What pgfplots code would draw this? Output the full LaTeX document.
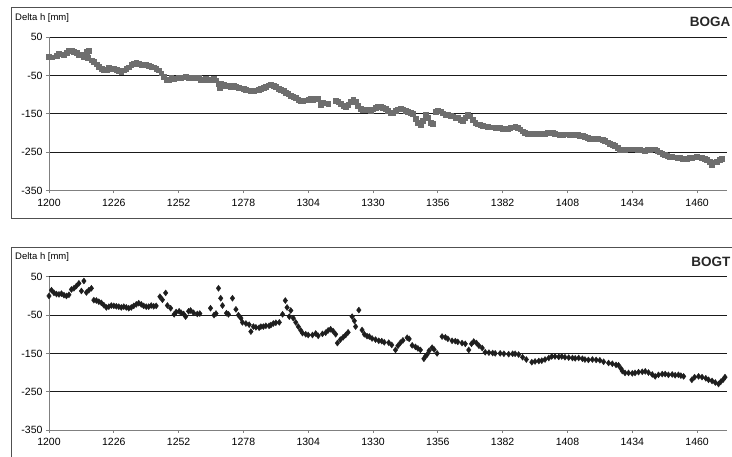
\documentclass[border=0pt]{standalone}
\usepackage{fontspec}
\setmainfont{Liberation Sans}
\usepackage{pgfplots}
\pgfplotsset{compat=1.18}
\definecolor{gridc}{HTML}{1A1A1A}
\definecolor{axc}{HTML}{808080}
\definecolor{framec}{HTML}{505050}
\definecolor{bogac}{HTML}{6E6E6E}
\definecolor{bogtc}{HTML}{1E1E1E}
\pgfplotsset{
  panel/.style={
    anchor=south west, width=678pt, height=153.2pt, scale only axis,
    xmin=1200, xmax=1472, ymin=-350, ymax=50,
    xtick={1200,1226,1252,1278,1304,1330,1356,1382,1408,1434,1460},
    ytick={50,-50,-150,-250},
    extra y ticks={-350}, extra y tick style={grid=none},
    ymajorgrids, major grid style={gridc, line width=0.8pt},
    axis x line*=bottom, axis y line*=left,
    axis line style={axc, line width=0.9pt, -},
    tick style={axc, line width=0.8pt}, major tick length=3pt, tick align=outside,
    tick label style={font=\fontsize{10.5}{12}\selectfont},
    /pgf/number format/assume math mode=true,
    /pgf/number format/1000 sep={},
    xticklabel style={yshift=-2pt},
    clip=false,
  }
}
\begin{document}
\begin{tikzpicture}[x=1pt,y=1pt]
\draw[framec, line width=0.9pt] (11.5,238.7) rectangle (745,449.7);
\draw[framec, line width=0.9pt] (11.5,-10) rectangle (745,209.7);
\begin{axis}[panel, at={(49pt,266.5pt)}]
\addplot[only marks, mark=square*, mark size=2.4pt, color=bogac] table {
x y
1200 0
1201 -2
1203 2
1204 8
1206 5
1207 10
1208 14
1209 15
1210 12
1211 10
1212 4
1213 6
1214 0
1215 12
1216 16
1215.5 -4
1217 -10
1218 -14
1219 -20
1220 -26
1221 -32
1222 -36
1223 -34
1224 -30
1225 -31
1226 -33
1227 -35
1228 -38
1229 -40
1230 -36
1231 -32
1232 -28
1233 -22
1234 -18
1235 -16
1236 -18
1237 -21
1238 -22
1239 -22
1240 -24
1241 -27
1242 -28
1243 -31
1244 -36
1245 -44
1246 -52
1247 -60
1248 -62
1249 -56
1250 -58
1251 -57
1252 -55
1253 -56
1254 -54
1255 -53
1256 -55
1257 -54
1258 -56
1259 -57
1260 -56
1261 -60
1262 -62
1263 -58
1264 -60
1265 -61
1266 -58
1267 -62
1268 -72
1268.5 -83
1269 -70
1270 -74
1271 -76
1272 -77
1273 -78
1274 -77
1275 -80
1276 -82
1277 -83
1278 -84
1279 -86
1280 -88
1281 -90
1282 -90
1283 -88
1284 -87
1285 -85
1286 -82
1287 -78
1288 -75
1289 -74
1290 -76
1291 -80
1292 -84
1293 -87
1294 -90
1295 -94
1296 -98
1297 -102
1298 -105
1299 -108
1300 -112
1301 -115
1302 -116
1303 -114
1304 -112
1305 -110
1306 -112
1307 -109
1308 -111
1309 -126
1310 -120
1311 -122
1312 -124
1315 -116
1316 -118
1317 -124
1318 -128
1319 -131
1320 -126
1321 -118
1322 -112
1323 -118
1324 -128
1325 -136
1326 -140
1327 -138
1328 -140
1329 -141
1330 -138
1331 -134
1332 -132
1333 -131
1334 -133
1335 -137
1336 -142
1337 -146
1338 -148
1339 -142
1340 -138
1341 -137
1342 -138
1343 -141
1344 -144
1345 -146
1346 -150
1347 -162
1348 -172
1349 -179
1350 -168
1351 -153
1352 -160
1353 -174
1354 -176
1355 -145
1356 -142
1357 -143
1358 -148
1359 -152
1360 -153
1361 -155
1362 -156
1363 -159
1364 -160
1365 -165
1366 -168
1367 -160
1368 -153
1369 -156
1370 -165
1371 -172
1372 -177
1373 -179
1374 -181
1375 -182
1376 -184
1377 -185
1378 -185
1379 -186
1380 -187
1381 -187
1382 -188
1383 -188
1384 -188
1385 -187
1386 -185
1387 -182
1388 -186
1389 -190
1390 -195
1391 -199
1392 -201
1393 -201
1394 -202
1395 -202
1396 -202
1397 -203
1398 -202
1399 -201
1400 -200
1401 -199
1402 -199
1403 -201
1404 -203
1405 -204
1406 -204
1407 -203
1408 -203
1409 -204
1410 -204
1411 -205
1412 -205
1413 -206
1414 -206
1415 -210
1416 -213
1417 -214
1418 -214
1419 -215
1420 -215
1421 -216
1422 -218
1423 -221
1424 -224
1425 -227
1426 -230
1427 -234
1428 -238
1429 -244
1430 -244
1431 -243
1432 -242
1433 -242
1434 -242
1435 -242
1436 -243
1437 -244
1438 -245
1439 -246
1440 -244
1441 -243
1442 -242
1443 -242
1444 -246
1445 -250
1446 -253
1447 -256
1448 -260
1449 -261
1450 -262
1451 -263
1452 -264
1453 -265
1454 -266
1455 -266
1456 -266
1457 -265
1458 -265
1459 -263
1460 -262
1461 -263
1462 -264
1463 -266
1464 -269
1465 -275
1466 -282
1467 -276
1468 -274
1469 -270
1470 -268
};
\end{axis}
\begin{axis}[panel, at={(49pt,27pt)}]
\addplot[only marks, mark=diamond*, mark size=3pt, color=bogtc] table {
x y
1200 0
1201 15
1202 8
1203 5
1204 4
1205 6
1206 2
1207 0
1208 3
1209 17
1210 20
1211 26
1212 33
1213 13
1214 39
1215 9
1216 15
1217 20
1218 -11
1219 -12
1220 -15
1221 -18
1222 -24
1223 -30
1224 -28
1225 -25
1226 -26
1227 -27
1228 -28
1229 -30
1230 -28
1231 -30
1232 -32
1233 -30
1234 -26
1235 -22
1236 -19
1237 -22
1238 -26
1239 -28
1240 -28
1241 -25
1242 -27
1243 -26
1244.5 -2
1245.5 -10
1246.8 8
1247.5 -25
1248.8 -32
1250.2 -48
1251 -42
1252.2 -40
1253 -44
1254 -47
1254.8 -54
1256 -40
1256.8 -38
1258 -44
1259.5 -47
1260.5 -46
1264.8 -32
1266.2 -50
1267 -46
1268 20
1268.9 -6
1269.6 -25
1271.2 -45
1272 -48
1273.6 -6
1275 -35
1276 -50
1277 -58
1277.6 -69
1279 -72
1280.3 -75
1281 -93
1282 -80
1283 -82
1284.3 -83
1285 -80
1286 -80
1287 -78
1288.3 -78
1289 -76
1290 -72
1291 -70
1292.4 -69
1293.7 -48
1294.8 -12
1295.5 -30
1296.4 -54
1297 -38
1298 -58
1299 -69
1300 -80
1301 -90
1301.7 -97
1303 -100
1304 -102
1305.7 -102
1307 -98
1308 -104
1309.7 -99
1311 -96
1312 -90
1313 -87
1314 -92
1315 -100
1315.7 -123
1316.9 -114
1318 -108
1319 -102
1320 -95
1321.6 -54
1322.5 -65
1323 -80
1324.3 -37
1325.6 -89
1326.5 -100
1327.6 -105
1328.5 -106
1329.6 -111
1331 -114
1332.3 -117
1333.5 -118
1334.5 -121
1336.3 -122
1337.5 -128
1339 -141
1340 -130
1341 -122
1342 -116
1343.7 -109
1344.5 -112
1345.7 -129
1347 -133
1348 -137
1349 -141
1350.4 -164
1351 -158
1351.7 -153
1352.5 -143
1353.7 -135
1354.5 -140
1355.7 -150
1357.7 -106
1359 -108
1360 -112
1361.7 -117
1363 -118
1364 -120
1365.7 -123
1367 -125
1368.4 -141
1369.5 -125
1370.4 -119
1371.5 -123
1372.5 -130
1373.8 -136
1375 -147
1376.5 -148
1378 -149
1379 -150
1381 -150
1382.5 -151
1384.4 -152
1386 -151
1387 -151
1388.4 -153
1390 -160
1391.5 -166
1393.7 -173
1395 -171
1396.5 -170
1397.7 -169
1399 -166
1400.5 -162
1401.7 -158
1403 -158
1404.5 -159
1405.7 -158
1407 -160
1408.5 -161
1410 -162
1411.1 -163
1412.5 -162
1414 -164
1415 -166
1416.4 -167
1418 -166
1419.5 -167
1421 -168
1422.5 -172
1424.5 -175
1426 -177
1427.5 -180
1428.5 -181
1429.5 -190
1430 -196
1431.1 -201
1432.5 -201
1434 -202
1435.1 -201
1436.5 -199
1438 -198
1439.2 -197
1440.5 -200
1442 -205
1443.2 -210
1444.5 -206
1446 -204
1447.2 -204
1448.5 -206
1450 -205
1451.2 -207
1452.5 -206
1453.5 -208
1454.6 -210
1457.9 -219
1459 -212
1460.6 -210
1462 -212
1463.5 -215
1464.6 -219
1466 -222
1467.3 -226
1468.6 -230
1469.5 -224
1470.5 -218
1471.2 -212
};
\end{axis}
\node[anchor=base west, font=\fontsize{9.5}{11}\selectfont, inner sep=0pt] at (15,436) {Delta h [mm]};
\node[anchor=base west, font=\fontsize{9.5}{11}\selectfont, inner sep=0pt] at (15,197) {Delta h [mm]};
\node[anchor=base east, font=\fontsize{13.5}{15}\selectfont\bfseries, inner sep=0pt, text=black!85] at (730.5,430.3) {BOGA};
\node[anchor=base east, font=\fontsize{13.5}{15}\selectfont\bfseries, inner sep=0pt, text=black!85] at (730.5,190.3) {BOGT};
\pgfresetboundingbox
\path (0,0) rectangle (732,457);
\end{tikzpicture}
\end{document}
